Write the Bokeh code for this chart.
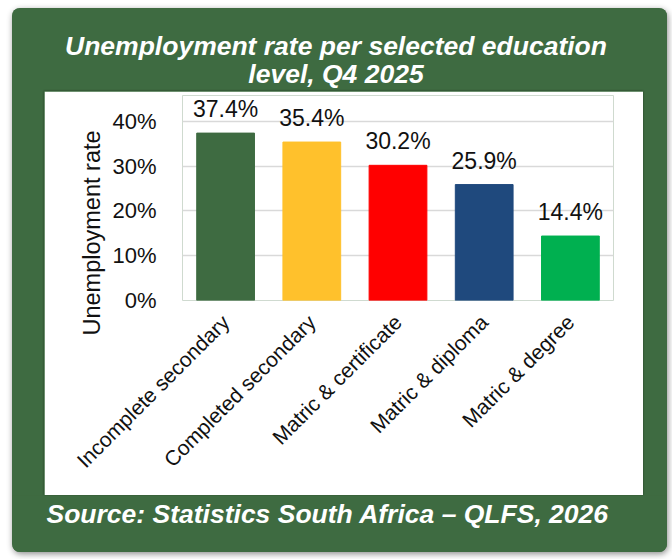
import math

from bokeh.core.properties import value
from bokeh.embed import file_html
from bokeh.layouts import column, row
from bokeh.models import (ColumnDataSource, FixedTicker, Label, LabelSet,
                          PrintfTickFormatter, Range1d, Spacer, Title)
from bokeh.plotting import figure
from bokeh.resources import INLINE

# --- data -------------------------------------------------------------
levels = ["Incomplete secondary", "Completed secondary", "Matric & certificate",
          "Matric & diploma", "Matric & degree"]
rates = [37.4, 35.4, 30.2, 25.9, 14.4]
rate_ticks = [0, 10, 20, 30, 40]

title_lines = ["Unemployment rate per selected education", "level, Q4 2025"]
source_note = "Source: Statistics South Africa \u2013 QLFS, 2026"
y_title = "Unemployment rate"

# --- styling ----------------------------------------------------------
FONT = "Liberation Sans"
GREEN = "#3E6B41"
TEXT = "#111111"
bar_colors = [GREEN, "#FFC12C", "#FF0000", "#1F497D", "#00B050"]

CARD_W = 655          # green card width
TITLE_H = 83          # green band above the chart panel
PANEL_W, PANEL_H = 599, 404
PAD_L, PAD_R = 32, 24
FOOT_H = 57


def green_block(w, h):
    """A plain green figure whose frame fills the whole block."""
    f = figure(width=w, height=h, x_range=Range1d(0, w), y_range=Range1d(h, 0),
               x_axis_type=None, y_axis_type=None, min_border=0, title=None,
               output_backend="svg", toolbar_location=None)
    f.background_fill_color = GREEN
    f.border_fill_color = GREEN
    f.outline_line_color = None
    f.grid.visible = False
    return f


# --- title band -------------------------------------------------------
head = green_block(CARD_W, TITLE_H)
for line, base in zip(title_lines, [37, 65]):
    head.add_layout(Label(x=CARD_W / 2 - 4, y=base, text=line, text_align="center",
                          text_baseline="alphabetic", text_font=FONT,
                          text_font_style="bold italic", text_font_size="26.5px",
                          text_color="white"))

# --- chart panel ------------------------------------------------------
source = ColumnDataSource(dict(
    level=levels,
    rate=rates,
    color=bar_colors,
    label=[f"{r:.1f}%" for r in rates],
))

p = figure(x_range=levels, y_range=Range1d(0, 45.8), width=PANEL_W, height=PANEL_H,
           output_backend="svg", toolbar_location=None, title=None,
           min_border_left=138, min_border_right=30,
           min_border_top=4, min_border_bottom=195)
p.border_fill_color = "white"
p.background_fill_color = "white"
p.outline_line_color = None
p.styles = {"box-shadow": "0px 0px 2px rgba(0, 0, 0, 0.45)"}

p.vbar(x="level", top="rate", width=0.67, color="color", source=source)

p.xgrid.grid_line_color = None
p.ygrid.grid_line_color = "#D9D9D9"
p.ygrid.grid_line_width = 1.5

p.yaxis.ticker = FixedTicker(ticks=rate_ticks)
p.yaxis.formatter = PrintfTickFormatter(format="%d%%")
p.yaxis.axis_line_color = None
p.yaxis.major_tick_line_color = None
p.yaxis.minor_tick_line_color = None
p.yaxis.major_label_standoff = 20
p.yaxis.major_label_text_font = FONT
p.yaxis.major_label_text_font_size = "22px"
p.yaxis.major_label_text_color = TEXT

p.xaxis.axis_line_color = None
p.xaxis.major_tick_line_color = None
p.xaxis.minor_tick_line_color = None
p.xaxis.major_label_orientation = math.pi / 4
p.xaxis.major_label_standoff = 12
p.xaxis.major_label_text_font = FONT
p.xaxis.major_label_text_font_size = "21px"
p.xaxis.major_label_text_color = TEXT

# vertical axis title, set a little below the middle of the frame
p.add_layout(Title(text=y_title, align="left", offset=-35, standoff=9,
                   text_font=FONT, text_font_style="normal",
                   text_font_size="23.5px", text_color=TEXT), "left")

# value labels above the bars
p.add_layout(LabelSet(x="level", y="rate", text="label", source=source,
                      y_offset=16, text_align="center", text_baseline="alphabetic",
                      text_font=value(FONT), text_font_size="23px", text_color=TEXT))

# --- footer -----------------------------------------------------------
foot = green_block(CARD_W, FOOT_H)
foot.add_layout(Label(x=34, y=18, text=source_note, text_align="left",
                      text_baseline="alphabetic", text_font=FONT,
                      text_font_style="bold italic", text_font_size="26.5px",
                      text_color="white"))

middle = row(Spacer(width=PAD_L, height=PANEL_H), p, Spacer(width=PAD_R, height=PANEL_H),
             spacing=0, styles={"background-color": GREEN})
card = column(head, middle, foot, spacing=0, margin=(8, 0, 0, 12),
              styles={"background-color": GREEN,
                      "box-shadow": "1px 2px 6px rgba(0, 0, 0, 0.45)",
                      "border-radius": "8px", "overflow": "hidden"})

open("out.html", "w").write(file_html(card, INLINE))
